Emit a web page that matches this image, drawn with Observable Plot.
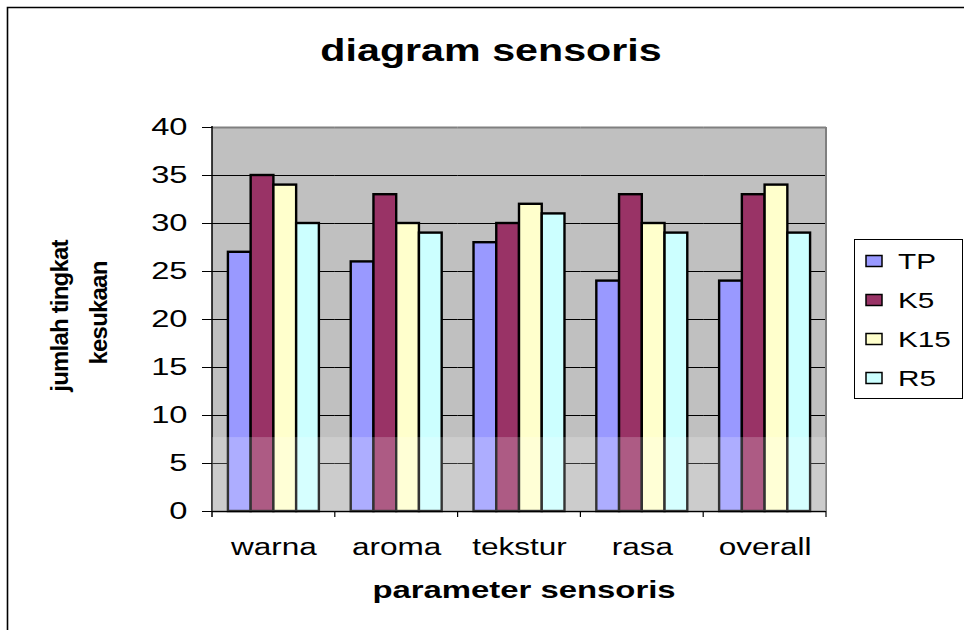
<!DOCTYPE html>
<html><head><meta charset="utf-8">
<script src="https://cdn.jsdelivr.net/npm/d3@7"></script>
<script src="https://cdn.jsdelivr.net/npm/@observablehq/plot@0.6"></script>
<style>
html,body{margin:0;padding:0;background:#fff;}
#chart{position:relative;width:964px;height:630px;overflow:hidden;}
svg{display:block;}
</style></head><body><div id="chart"></div>
<script>
// ---- data ----
const categories = ["warna", "aroma", "tekstur", "rasa", "overall"];
const seriesNames = ["TP", "K5", "K15", "R5"];
const TP  = [27, 26, 28, 24, 24];
const K5  = [35, 33, 30, 33, 33];
const K15 = [34, 30, 32, 30, 34];
const R5  = [30, 29, 31, 29, 29];
const yTicks = [0, 5, 10, 15, 20, 25, 30, 35, 40];
const seriesColors = ["#9999FF", "#993366", "#FFFFCC", "#CCFFFF"];
const titleText = "diagram sensoris";
const xLabel = "parameter sensoris";
const yLabelLines = ["jumlah tingkat", "kesukaan"];

const seriesValues = [TP, K5, K15, R5];
const data = [];
categories.forEach((c, i) => seriesNames.forEach((s, j) =>
  data.push({category: c, series: s, value: seriesValues[j][i]})));

const W = 964, H = 630, mL = 212, mR = 138, mT = 127, mB = 119;
const FONT = "'Liberation Sans', Arial, Helvetica, sans-serif";

const plot = Plot.plot({
  width: W, height: H,
  marginLeft: mL, marginRight: mR, marginTop: mT, marginBottom: mB,
  style: {fontFamily: FONT, fontSize: "23px", background: "transparent", color: "#000", overflow: "visible"},
  fx: {domain: categories, padding: 0, round: false, label: null, axis: "bottom", tickSize: 0, tickPadding: 27},
  x: {domain: seriesNames, paddingInner: 0, paddingOuter: 0.7, round: false, axis: null},
  y: {domain: [0, 40], ticks: yTicks, tickSize: 10, tickPadding: 15, label: null},
  color: {domain: seriesNames, range: seriesColors},
  marks: [
    Plot.ruleY(yTicks.filter(v => v > 0 && v < 40), {stroke: "#000", strokeWidth: 1.2}),
    Plot.ruleY([40], {stroke: "#808080", strokeWidth: 2}),
    Plot.barY(data, {fx: "category", x: "series", y: "value", fill: "series", stroke: "#000", strokeWidth: 2.4}),
    Plot.ruleY([0], {stroke: "#000", strokeWidth: 1.5})
  ]
});

document.getElementById("chart").appendChild(plot);
const svg = d3.select(plot);
const fx = plot.scale("fx"), y = plot.scale("y"), color = plot.scale("color");
const x0 = fx.apply(categories[0]);
const x1 = fx.apply(categories[categories.length - 1]) + fx.bandwidth;
const yTop = y.apply(40), yBot = y.apply(0);

function stretch(t, s) {
  const tr = t.getAttribute("transform") || "";
  const x = t.getAttribute("x");
  if (x != null && x !== "" && !isNaN(+x)) t.setAttribute("x", (+x) / s);
  t.setAttribute("transform", (tr + ` scale(${s},1)`).trim());
}
// stretch axis tick labels
svg.selectAll("text").each(function() {
  const txt = this.textContent.trim();
  stretch(this, /^\d+$/.test(txt) ? 1.42 : 1.37);
});

// background of plot area (behind everything)
svg.insert("rect", ":first-child")
  .attr("x", x0).attr("y", yTop).attr("width", x1 - x0).attr("height", yBot - yTop)
  .attr("fill", "#c0c0c0");

// plot area right border, left axis line
const deco = svg.append("g");
deco.append("line").attr("x1", x1).attr("x2", x1).attr("y1", yTop).attr("y2", yBot)
  .attr("stroke", "#808080").attr("stroke-width", 2);
deco.append("line").attr("x1", x0).attr("x2", x0).attr("y1", yTop - 1).attr("y2", yBot + 6)
  .attr("stroke", "#000").attr("stroke-width", 1.5);
// category boundary ticks
categories.forEach((c, i) => {
  const bx = fx.apply(c) + fx.bandwidth;
  deco.append("line").attr("x1", bx).attr("x2", bx).attr("y1", yBot).attr("y2", yBot + 6)
    .attr("stroke", "#000").attr("stroke-width", 1.2);
});

// watermark-like lightening of the lower band
svg.append("rect")
  .attr("x", x0).attr("y", y.apply(7.7)).attr("width", x1 - x0).attr("height", yBot - y.apply(7.7))
  .attr("fill", "#fff").attr("opacity", 0.2);

// outer chart frame (left + top edges)
svg.append("path").attr("d", `M7.5,${H} V7.5 H${W}`)
  .attr("fill", "none").attr("stroke", "#000").attr("stroke-width", 1.6);

// title
const title = svg.append("text").attr("transform", `translate(491,61)`)
  .attr("text-anchor", "middle").attr("font-family", FONT).attr("font-weight", "bold")
  .attr("font-size", 31).attr("fill", "#000").text(titleText);
stretch(title.node(), 1.33);

// x label
const xl = svg.append("text").attr("transform", `translate(${(x0 + x1) / 2 + 5},598)`)
  .attr("text-anchor", "middle").attr("font-family", FONT).attr("font-weight", "bold")
  .attr("font-size", 24).attr("fill", "#000").text(xLabel);
stretch(xl.node(), 1.37);

// y label (two rotated lines)
[[67.5, 316], [107, 313]].forEach(([bx, cy], i) => {
  svg.append("text").attr("transform", `translate(${bx},${cy}) rotate(-90)`)
    .attr("text-anchor", "middle").attr("font-family", FONT).attr("font-weight", "bold")
    .attr("font-size", 24).attr("letter-spacing", "-0.8").attr("fill", "#000").text(yLabelLines[i]);
});

// legend
const lg = svg.append("g").attr("text-anchor", "start");
lg.append("rect").attr("x", 854.5).attr("y", 239.5).attr("width", 108).attr("height", 159)
  .attr("fill", "#fff").attr("stroke", "#000").attr("stroke-width", 1);
seriesNames.forEach((s, i) => {
  const cy = 261 + i * 39;
  lg.append("rect").attr("x", 866).attr("y", cy - 5.5).attr("width", 16).attr("height", 11)
    .attr("fill", color.apply(s)).attr("stroke", "#000").attr("stroke-width", 1.5);
  const t = lg.append("text").attr("transform", `translate(898,${cy + 8})`)
    .attr("text-anchor", "start")
    .attr("font-family", FONT).attr("font-size", 22).attr("fill", "#000").text(s);
  stretch(t.node(), 1.35);
});
</script>
</body></html>
